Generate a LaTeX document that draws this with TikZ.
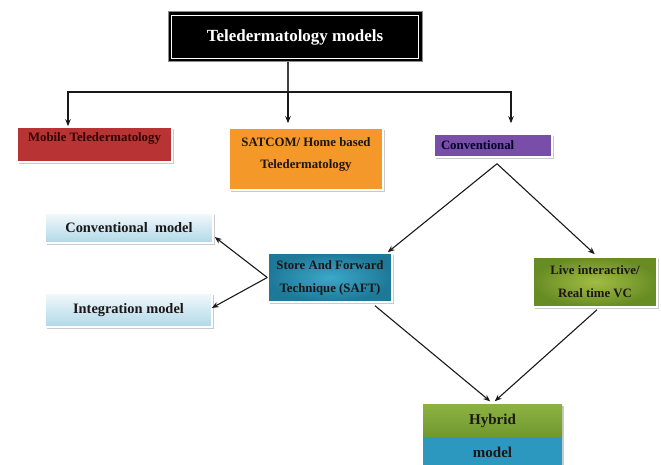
\documentclass[tikz,border=0pt]{standalone}
\usepackage{fontspec}
\setmainfont{Liberation Serif}
\usetikzlibrary{shadows,arrows.meta,calc}
\definecolor{redbox}{RGB}{184,52,52}
\definecolor{orangebox}{RGB}{245,152,42}
\definecolor{purplebox}{RGB}{120,78,168}
\definecolor{ltblueA}{RGB}{242,249,252}
\definecolor{ltblueB}{RGB}{176,216,231}
\definecolor{tealA}{RGB}{60,168,200}
\definecolor{tealB}{RGB}{30,120,152}
\definecolor{greenA}{RGB}{162,188,68}
\definecolor{greenB}{RGB}{104,140,36}
\definecolor{hybgreenA}{RGB}{140,178,66}
\definecolor{hybgreenB}{RGB}{112,152,46}
\definecolor{hybteal}{RGB}{44,152,192}
\definecolor{txt}{RGB}{28,22,22}
\begin{document}
\begin{tikzpicture}[x=1pt,y=-1pt,
  box/.style={draw=white, line width=1.5pt,
    drop shadow={shadow xshift=1.5pt, shadow yshift=-2pt, fill=black!35, opacity=0.6},
    inner sep=0pt, font=\bfseries\fontsize{12.8}{15.4}\selectfont, text=txt},
  bigtxt/.style={font=\bfseries\fontsize{14.4}{17}\selectfont},
  arr/.style={-{Stealth[length=7pt,width=5.5pt]}, line width=1.1pt, draw=black!90},
  ln/.style={line width=1.1pt, draw=black!75}]
\useasboundingbox (0,0) rectangle (661,465);

% title
\node[fill=black, draw=black!45, line width=1pt, minimum width=254pt, minimum height=50pt,
  text=white, font=\bfseries\fontsize{17}{20}\selectfont] (title) at (295,37) {Teledermatology models};
\draw[white, line width=0.9pt] ([shift={(4pt,-4pt)}]title.north west) rectangle ([shift={(-4pt,4pt)}]title.south east);

% first row
\node[box, fill=redbox, minimum width=155pt, minimum height=35pt, text height=9pt, text depth=15pt,
  text=black!80!red] (mobile) at (94.5,144.5) {Mobile Teledermatology};
\node[box, fill=orangebox, minimum width=154pt, minimum height=62pt, align=center]
  (satcom) at (306,159) {SATCOM/ Home based\\[7pt]Teledermatology\\[-3pt]\mbox{}};
\node[box, fill=purplebox, minimum width=118pt, minimum height=23pt, text width=104pt, align=left,
  text=black!85!blue] (conv) at (493,145.5) {Conventional};

% left models
\node[box, top color=ltblueA, bottom color=ltblueB, minimum width=168pt, minimum height=30pt, bigtxt]
  (cmodel) at (129,228) {Conventional\ \ model};
\node[box, top color=ltblueA, bottom color=ltblueB, minimum width=167pt, minimum height=34pt, bigtxt]
  (imodel) at (128.5,310) {Integration model};

% SAFT and live
\node[box, inner color=tealA, outer color=tealB, minimum width=124pt, minimum height=49pt, align=center]
  (saft) at (330,277.5) {Store And Forward\\[7.5pt]Technique (SAFT)};
\node[box, inner color=greenA, outer color=greenB, minimum width=124pt, minimum height=50pt, align=center]
  (live) at (595,282) {Live interactive/\\[7.5pt]Real time VC};

% hybrid
\node[box, draw=none, top color=hybgreenA, bottom color=hybgreenB, minimum width=139pt, minimum height=33pt,
  font=\bfseries\fontsize{15}{18}\selectfont] (hybrid) at (492.5,420.5) {Hybrid};
\node[box, draw=none, fill=hybteal, minimum width=139pt, minimum height=30pt,
  font=\bfseries\fontsize{15}{18}\selectfont] (hmodel) at (492.5,452) {model};

% connectors from title
\coordinate (j) at (288,92);
\draw[ln] ([xshift=-7pt]title.south) -- (j);
\draw[arr] (j) -| ([xshift=-26.5pt]mobile.north);
\draw[arr, shorten >=4pt] (j) -- ([xshift=-18pt]satcom.north);
\draw[arr, shorten >=10pt] (j) -| ([xshift=18pt]conv.north);

% conventional branches
\draw[arr] ([shift={(4pt,-6pt)}]conv.south) -- ([xshift=-5pt]saft.north east);
\draw[arr, shorten >=3pt] ([shift={(4pt,-6pt)}]conv.south) -- ([xshift=2pt]live.north);

% SAFT to models
\draw[arr] (saft.west) -- ([shift={(1pt,-9pt)}]cmodel.east);
\draw[arr] (saft.west) -- ([shift={(-1pt,2pt)}]imodel.east);

% to hybrid
\draw[arr, shorten >=3pt] ([shift={(45pt,-3pt)}]saft.south) -- (hybrid.north);
\draw[arr, shorten >=3pt] ([shift={(2pt,-2pt)}]live.south) -- (hybrid.north);
\end{tikzpicture}
\end{document}
